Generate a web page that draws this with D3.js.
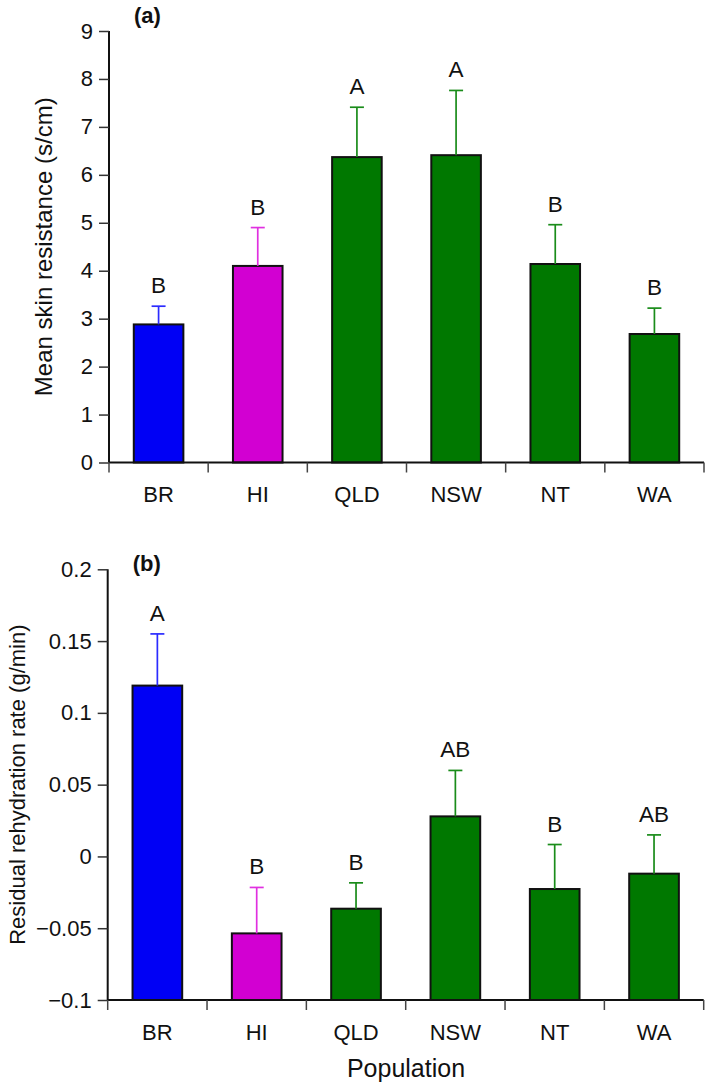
<!DOCTYPE html>
<html>
<head>
<meta charset="utf-8">
<script src="https://cdn.jsdelivr.net/npm/d3@7"></script>
<style>
  html, body { margin: 0; padding: 0; background: #fff; }
  svg { display: block; font-family: "Liberation Sans", Arial, Helvetica, sans-serif; }
</style>
</head>
<body>
<svg id="chart" width="709" height="1085"></svg>
<script>
const categories = ["BR", "HI", "QLD", "NSW", "NT", "WA"];
const barColors = ["#0000f5", "#d200d2", "#007800", "#007800", "#007800", "#007800"];
const errColors = ["#2b2bff", "#e030e0", "#1a8c1a", "#1a8c1a", "#1a8c1a", "#1a8c1a"];

const resistance = [2.88, 4.10, 6.37, 6.41, 4.14, 2.68];
const resistanceSE = [0.38, 0.80, 1.04, 1.35, 0.82, 0.54];
const resistanceLetters = ["B", "B", "A", "A", "B", "B"];
const resistanceTicks = [0, 1, 2, 3, 4, 5, 6, 7, 8, 9];

const rehydration = [0.119, -0.0536, -0.0364, 0.0279, -0.0227, -0.012];
const rehydrationSE = [0.036, 0.032, 0.018, 0.032, 0.031, 0.027];
const rehydrationLetters = ["A", "B", "B", "AB", "B", "AB"];
const rehydrationTicks = [-0.1, -0.05, 0, 0.05, 0.1, 0.15, 0.2];

const svg = d3.select("#chart");

function panel(opts) {
  const g = svg.append("g");
  const x = d3.scaleBand().domain(categories)
    .range([opts.x0, opts.x1]).paddingInner(0.5).paddingOuter(0.25);
  const y = d3.scaleLinear().domain(opts.domain).range([opts.yb, opts.yt]);
  const base = opts.domain[0];
  const gap = (x.step() - x.bandwidth()) / 2;

  // bars
  g.selectAll("rect.bar").data(categories).join("rect")
    .attr("x", d => x(d))
    .attr("width", x.bandwidth())
    .attr("y", (d, i) => y(opts.values[i]))
    .attr("height", (d, i) => y(base) - y(opts.values[i]))
    .attr("fill", (d, i) => barColors[i])
    .attr("stroke", "#111")
    .attr("stroke-width", 2);

  // error bars (upper only)
  const eg = g.selectAll("g.err").data(categories).join("g");
  eg.append("line")
    .attr("x1", d => x(d) + x.bandwidth() / 2)
    .attr("x2", d => x(d) + x.bandwidth() / 2)
    .attr("y1", (d, i) => y(opts.values[i]))
    .attr("y2", (d, i) => y(opts.values[i] + opts.se[i]))
    .attr("stroke", (d, i) => errColors[i]).attr("stroke-width", 1.7);
  eg.append("line")
    .attr("x1", d => x(d) + x.bandwidth() / 2 - 7)
    .attr("x2", d => x(d) + x.bandwidth() / 2 + 7)
    .attr("y1", (d, i) => y(opts.values[i] + opts.se[i]))
    .attr("y2", (d, i) => y(opts.values[i] + opts.se[i]))
    .attr("stroke", (d, i) => errColors[i]).attr("stroke-width", 1.7);

  // letters
  g.selectAll("text.letter").data(categories).join("text")
    .attr("x", d => x(d) + x.bandwidth() / 2)
    .attr("y", (d, i) => y(opts.values[i] + opts.se[i]) - 13)
    .attr("text-anchor", "middle")
    .attr("font-size", 22.5)
    .attr("fill", "#111")
    .text((d, i) => opts.letters[i]);

  // y axis
  const ya = g.append("g").attr("transform", `translate(${opts.x0},0)`)
    .call(d3.axisLeft(y).tickValues(opts.ticks).tickSize(10).tickPadding(6)
      .tickFormat(opts.fmt));
  ya.select(".domain").attr("stroke", "#111").attr("stroke-width", 2)
    .attr("d", `M0,${opts.yt}V${opts.yb}`);
  ya.selectAll(".tick line").attr("stroke", "#333").attr("stroke-width", 1.5);
  ya.selectAll(".tick text").attr("font-size", 22).attr("fill", "#111")
    .attr("font-family", "'Liberation Sans', Arial, sans-serif");

  // x axis
  const xa = g.append("g").attr("transform", `translate(0,${opts.yb})`)
    .call(d3.axisBottom(x).tickSize(0).tickPadding(24));
  xa.select(".domain").attr("stroke", "#111").attr("stroke-width", 2)
    .attr("d", `M${opts.x0},0H${opts.x1}`);
  xa.selectAll(".tick text").attr("font-size", 22).attr("fill", "#111")
    .attr("font-family", "'Liberation Sans', Arial, sans-serif");
  const bounds = categories.map(c => x(c) - gap).concat([x(categories[categories.length - 1]) + x.bandwidth() + gap]);
  xa.selectAll("line.bound").data(bounds).join("line")
    .attr("x1", d => d).attr("x2", d => d)
    .attr("y1", 0).attr("y2", 10)
    .attr("stroke", "#444").attr("stroke-width", 1.5);

  // y title
  g.append("text")
    .attr("transform", `translate(${opts.titleX},${(opts.yt + opts.yb) / 2}) rotate(-90)`)
    .attr("text-anchor", "middle")
    .attr("dominant-baseline", "central")
    .attr("font-size", opts.titleSize)
    .attr("fill", "#111")
    .text(opts.title);

  // panel label
  g.append("text")
    .attr("x", opts.x0 + 25).attr("y", opts.labelY)
    .attr("font-size", 22).attr("font-weight", "bold").attr("fill", "#111")
    .text(opts.label);
}

panel({
  x0: 109, x1: 704, yb: 462.5, yt: 31,
  domain: [0, 9], values: resistance, se: resistanceSE, letters: resistanceLetters,
  ticks: resistanceTicks, fmt: d3.format("d"),
  title: "Mean skin resistance (s/cm)", titleX: 43, titleSize: 24,
  label: "(a)", labelY: 23
});

panel({
  x0: 107.7, x1: 703.7, yb: 1000, yt: 569.3,
  domain: [-0.1, 0.2], values: rehydration, se: rehydrationSE, letters: rehydrationLetters,
  ticks: rehydrationTicks, fmt: d => (d === 0 ? "0" : d3.format("")(+d.toFixed(2)).replace("-", "\u2212")),
  title: "Residual rehydration rate (g/min)", titleX: 17, titleSize: 22,
  label: "(b)", labelY: 571
});

svg.append("text")
  .attr("x", 406).attr("y", 1077)
  .attr("text-anchor", "middle")
  .attr("font-size", 25)
  .attr("fill", "#111")
  .text("Population");
</script>
</body>
</html>
